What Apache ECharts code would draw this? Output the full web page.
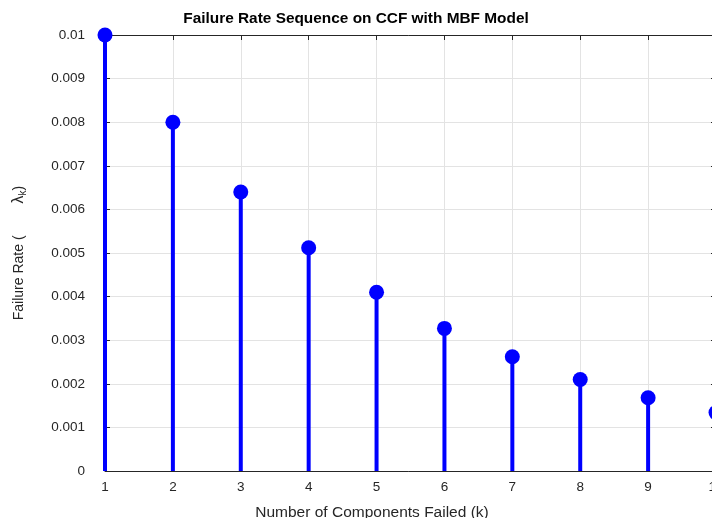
<!DOCTYPE html>
<html>
<head>
<meta charset="utf-8">
<script src="https://cdn.jsdelivr.net/npm/echarts@6/dist/echarts.min.js"></script>
<style>
html,body{margin:0;padding:0;background:#fff;}
#c{width:712px;height:518px;}
</style>
</head>
<body>
<div id="c"></div>
<script>
const titleText = 'Failure Rate Sequence on CCF with MBF Model';
const xLabel = 'Number of Components Failed (k)';
const kValues = [1, 2, 3, 4, 5, 6, 7, 8, 9, 10];
const failureRates = [0.01, 0.008, 0.0064, 0.00512, 0.0041, 0.00327, 0.00262, 0.0021, 0.00168, 0.00134];

const pts = kValues.map((k, i) => [k, failureRates[i]]);
const font = 'Liberation Sans, Arial, Helvetica, sans-serif';
const axisColor = '#262626';
const gridColor = '#e3e3e3';

const chart = echarts.init(document.getElementById('c'), null, {renderer: 'canvas'});
chart.setOption({
  animation: false,
  backgroundColor: '#fff',
  title: {
    text: titleText,
    left: 351, top: 6, textAlign: 'center',
    textStyle: {fontFamily: font, fontSize: 15.4, fontWeight: 'bold', color: '#000'}
  },
  grid: {left: 105, top: 35, width: 611, height: 436, containLabel: false, outerBoundsMode: 'none'},
  xAxis: [{
    type: 'value', min: 1, max: 10, interval: 1, position: 'bottom',
    name: xLabel, nameLocation: 'middle', nameGap: 34,
    nameTextStyle: {fontFamily: font, fontSize: 15.5, color: axisColor, padding: [0, 77, 0, 0]},
    axisLine: {show: true, onZero: false, lineStyle: {color: axisColor, width: 1}},
    axisTick: {show: true, inside: true, length: 5, lineStyle: {color: axisColor}},
    axisLabel: {fontFamily: font, fontSize: 13.5, color: axisColor, margin: 9},
    splitLine: {show: true, lineStyle: {color: gridColor, width: 1}}
  }, {
    type: 'value', min: 1, max: 10, interval: 1, position: 'top',
    axisLine: {show: true, onZero: false, lineStyle: {color: axisColor, width: 1}},
    axisTick: {show: true, inside: true, length: 5, lineStyle: {color: axisColor}},
    axisLabel: {show: false}, splitLine: {show: false}
  }],
  yAxis: [{
    type: 'value', min: 0, max: 0.01, interval: 0.001, position: 'left',
    name: '{a|Failure Rate (}{g|}{l|λ}{s|k}{a|)}',
    nameLocation: 'middle', nameGap: 77, nameRotate: 90,
    nameTextStyle: {
      fontFamily: font, fontSize: 14, color: axisColor,
      rich: {
        a: {fontFamily: font, fontSize: 14, color: axisColor},
        g: {width: 32},
        l: {fontFamily: font, fontSize: 16, color: axisColor},
        s: {fontFamily: font, fontSize: 10, color: axisColor, verticalAlign: 'bottom', padding: [8, 0, 0, 0]}
      }
    },
    axisLine: {show: true, onZero: false, lineStyle: {color: axisColor, width: 1}},
    axisTick: {show: true, inside: true, length: 5, lineStyle: {color: axisColor}},
    axisLabel: {fontFamily: font, fontSize: 13.5, color: axisColor, margin: 20,
      formatter: v => String(+v.toFixed(4))},
    splitLine: {show: true, lineStyle: {color: gridColor, width: 1}}
  }, {
    type: 'value', min: 0, max: 0.01, interval: 0.001, position: 'right',
    axisLine: {show: true, onZero: false, lineStyle: {color: axisColor, width: 1}},
    axisTick: {show: true, inside: true, length: 5, lineStyle: {color: axisColor}},
    axisLabel: {show: false}, splitLine: {show: false}
  }],
  series: [{
    type: 'bar', xAxisIndex: 0, yAxisIndex: 0, data: pts,
    barWidth: 4, clip: false,
    itemStyle: {color: '#0000ff', opacity: 1}, z: 3
  }, {
    type: 'scatter', xAxisIndex: 0, yAxisIndex: 0, data: pts,
    symbol: 'circle', symbolSize: 15, clip: false,
    itemStyle: {color: '#0000ff', opacity: 1}, z: 4
  }]
});
</script>
</body>
</html>
